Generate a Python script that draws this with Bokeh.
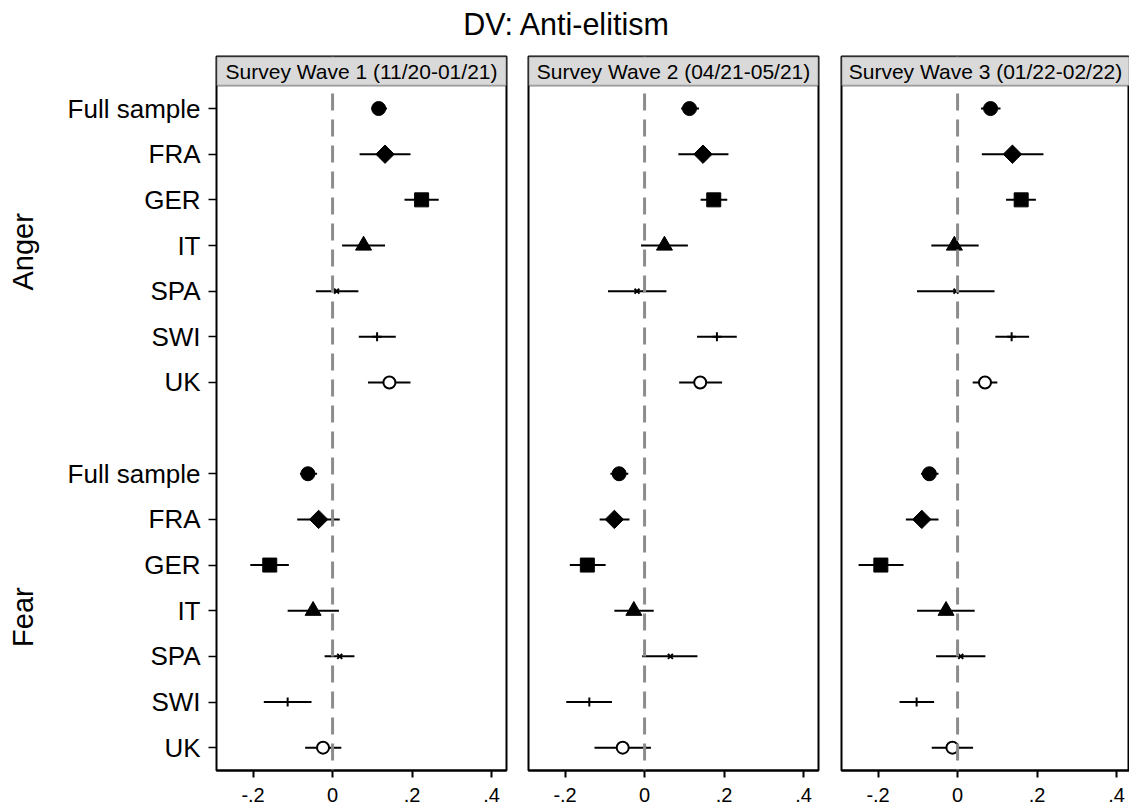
import math
from bokeh.plotting import figure
from bokeh.models import (ColumnDataSource, Range1d, FixedTicker, LinearAxis,
                          BoxAnnotation, Span, Label, Div)
from bokeh.layouts import row, column
from bokeh.embed import file_html
from bokeh.resources import INLINE

# ---------------- data ----------------
countries = ["Full sample", "FRA", "GER", "IT", "SPA", "SWI", "UK"]
groups = ["Anger", "Fear"]
waves = ["Survey Wave 1 (11/20-01/21)", "Survey Wave 2 (04/21-05/21)",
         "Survey Wave 3 (01/22-02/22)"]
x_ticks = [-0.2, 0.0, 0.2, 0.4]
x_tick_labels = ["-.2", "0", ".2", ".4"]
title_text = "DV: Anti-elitism"

w1_anger_est = [0.116, 0.132, 0.224, 0.078, 0.010, 0.112, 0.143]
w1_anger_lo = [0.098, 0.068, 0.181, 0.024, -0.042, 0.066, 0.089]
w1_anger_hi = [0.137, 0.196, 0.267, 0.132, 0.065, 0.159, 0.196]
w1_fear_est = [-0.062, -0.035, -0.158, -0.049, 0.018, -0.113, -0.024]
w1_fear_lo = [-0.082, -0.089, -0.207, -0.113, -0.020, -0.173, -0.069]
w1_fear_hi = [-0.039, 0.018, -0.110, 0.016, 0.055, -0.053, 0.022]

w2_anger_est = [0.113, 0.147, 0.174, 0.050, -0.019, 0.182, 0.140]
w2_anger_lo = [0.092, 0.085, 0.141, -0.009, -0.092, 0.132, 0.087]
w2_anger_hi = [0.137, 0.211, 0.208, 0.109, 0.055, 0.232, 0.195]
w2_fear_est = [-0.064, -0.076, -0.144, -0.027, 0.065, -0.139, -0.055]
w2_fear_lo = [-0.086, -0.113, -0.188, -0.076, -0.006, -0.197, -0.126]
w2_fear_hi = [-0.041, -0.038, -0.098, 0.023, 0.133, -0.082, 0.016]

w3_anger_est = [0.083, 0.138, 0.160, -0.008, -0.004, 0.136, 0.069]
w3_anger_lo = [0.059, 0.061, 0.122, -0.066, -0.102, 0.095, 0.038]
w3_anger_hi = [0.108, 0.216, 0.197, 0.053, 0.093, 0.180, 0.100]
w3_fear_est = [-0.071, -0.090, -0.193, -0.029, 0.008, -0.103, -0.013]
w3_fear_lo = [-0.092, -0.130, -0.249, -0.102, -0.054, -0.146, -0.065]
w3_fear_hi = [-0.048, -0.048, -0.136, 0.043, 0.070, -0.059, 0.039]

# ---------------- styles ----------------
FONT = "Liberation Sans"
MARKERS = ["circle", "square", "square", "triangle", "x", "cross", "circle"]
SIZES = [14, 13, 14, 16, 7, 9, 12]
ANGLES = [0, math.pi / 4, 0, 0, 0, 0, 0]
FILLS = ["black"] * 6 + ["white"]
LWS = [1, 1, 1, 1, 2, 2, 2]
GROUP_LABEL_SHIFT = 0.14

n = len(countries)
anger_rows = [i + 1 for i in range(n)]
fear_rows = [i + n + 2 for i in range(n)]
all_rows = anger_rows + fear_rows
Y_BOTTOM = fear_rows[-1] + 0.5
HDR_BOTTOM = anger_rows[0] - 0.5
HDR_TOP = HDR_BOTTOM - 0.64
X_START = -0.292
PX_PER_UNIT = 397.5


def make_panel(idx, data, width, bl, br, frame_w, show_y):
    a_est, a_lo, a_hi, f_est, f_lo, f_hi = data
    x_end = X_START + frame_w / PX_PER_UNIT
    p = figure(width=width, height=768, output_backend="svg", toolbar_location=None,
               x_range=Range1d(X_START, x_end), y_range=Range1d(Y_BOTTOM, HDR_TOP),
               min_border_left=bl, min_border_right=br, min_border_top=12,
               min_border_bottom=42, y_axis_location="left" if show_y else None,
               background_fill_color="white", border_fill_color="white")
    p.xgrid.visible = False
    p.ygrid.visible = False
    p.outline_line_color = "black"
    p.outline_line_width = 2

    # zero line
    p.add_layout(Span(location=0, dimension="height", line_color="#8c8c8c",
                      line_width=3, line_dash="17 9", line_dash_offset=15))
    # header strip
    p.add_layout(BoxAnnotation(top=HDR_TOP, bottom=HDR_BOTTOM, fill_color="#d9d9d9",
                               fill_alpha=1, line_color="black", line_width=2))
    p.add_layout(Label(x=(X_START + x_end) / 2, y=(HDR_TOP + HDR_BOTTOM) / 2,
                       text=waves[idx], text_align="center", text_baseline="middle",
                       text_font=FONT, text_font_size="21px", text_color="black"))

    src = ColumnDataSource(dict(
        y=all_rows, est=a_est + f_est, lo=a_lo + f_lo, hi=a_hi + f_hi,
        marker=MARKERS * 2, size=SIZES * 2, angle=ANGLES * 2, fill=FILLS * 2, lw=LWS * 2))
    p.segment(x0="lo", x1="hi", y0="y", y1="y", line_color="black", line_width=2, source=src)
    p.scatter(x="est", y="y", marker="marker", size="size", angle="angle",
              fill_color="fill", line_color="black", line_width="lw", source=src)

    # x axis
    xa = p.xaxis[0]
    xa.ticker = FixedTicker(ticks=x_ticks)
    xa.major_label_overrides = {t: l for t, l in zip(x_ticks, x_tick_labels)}
    xa.minor_tick_line_color = None
    xa.major_tick_out = 7
    xa.major_tick_in = 0
    xa.major_tick_line_width = 2
    xa.axis_line_width = 2
    xa.major_label_standoff = 10
    xa.major_label_text_font = FONT
    xa.major_label_text_font_size = "20px"
    xa.major_label_text_color = "black"

    if show_y:
        ya = p.yaxis[0]
        ya.ticker = FixedTicker(ticks=all_rows)
        ya.major_label_overrides = {r: c for r, c in zip(all_rows, countries * 2)}
        ya.minor_tick_line_color = None
        ya.axis_line_color = None
        ya.major_tick_out = 8
        ya.major_tick_in = 0
        ya.major_tick_line_width = 1.5
        ya.major_label_standoff = 8
        ya.major_label_text_font = FONT
        ya.major_label_text_font_size = "26px"
        ya.major_label_text_color = "black"

        g_centers = [sum(anger_rows) / n + GROUP_LABEL_SHIFT,
                     sum(fear_rows) / n + GROUP_LABEL_SHIFT]
        ga = LinearAxis(ticker=FixedTicker(ticks=g_centers),
                        major_label_overrides={c: g for c, g in zip(g_centers, groups)},
                        major_label_orientation="vertical", major_tick_out=0,
                        major_tick_in=0, axis_line_color=None,
                        minor_tick_line_color=None, major_label_standoff=25,
                        major_label_text_font=FONT, major_label_text_font_size="29px",
                        major_label_text_color="black")
        p.add_layout(ga, "left")
    return p


p1 = make_panel(0, (w1_anger_est, w1_anger_lo, w1_anger_hi, w1_fear_est, w1_fear_lo, w1_fear_hi),
                517, 216, 11, 290, True)
p2 = make_panel(1, (w2_anger_est, w2_anger_lo, w2_anger_hi, w2_fear_est, w2_fear_lo, w2_fear_hi),
                312, 11, 11, 290, False)
p3 = make_panel(2, (w3_anger_est, w3_anger_lo, w3_anger_hi, w3_fear_est, w3_fear_lo, w3_fear_hi),
                300, 12, 0, 288, False)

title = Div(text=title_text, width=1129, height=44, margin=0,
            styles={"font-family": FONT, "font-size": "30.5px", "text-align": "center",
                    "line-height": "30px", "padding-top": "9px", "color": "black",
                    "padding-left": "3px"})

layout = column(title, row(p1, p2, p3, spacing=0), spacing=0)

with open("out.html", "w") as f:
    f.write(file_html(layout, INLINE))
